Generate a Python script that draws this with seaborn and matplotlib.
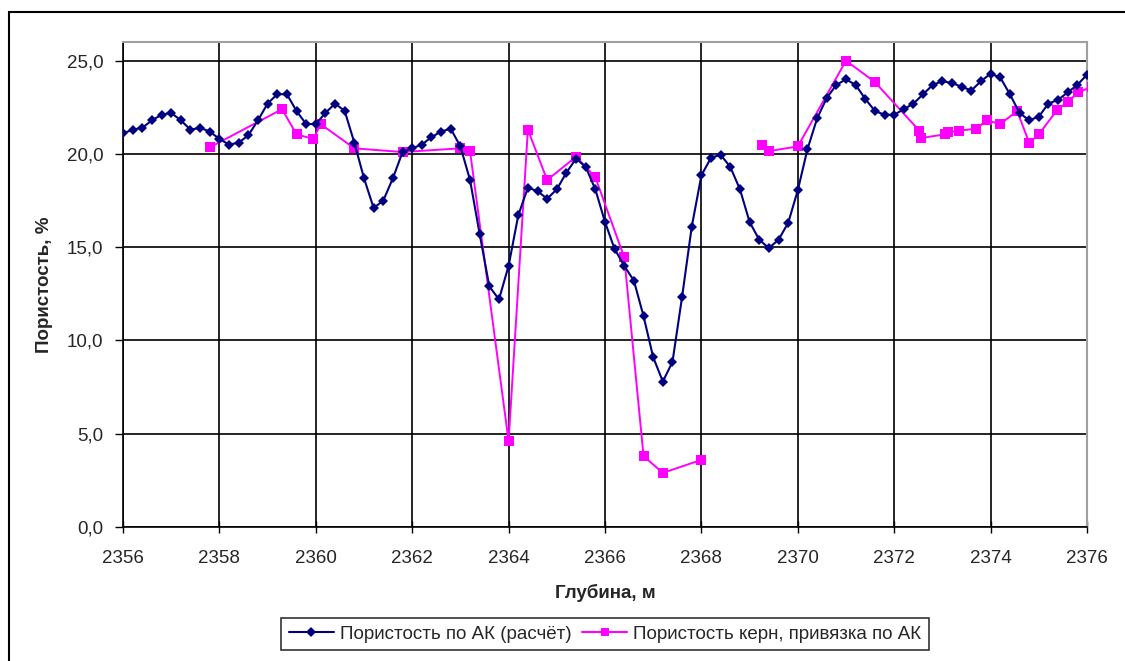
# Porosity vs depth: acoustic log calculation vs core samples tied to AK
import numpy as np
import pandas as pd
import matplotlib.pyplot as plt
import matplotlib.patches as mpatches
import matplotlib.ticker as mticker
import seaborn as sns

# Porosity from acoustic log (every 0.2 m)
ak_depth = np.round(np.arange(2356.0, 2376.01, 0.2), 1)
ak_poro = [21.1, 21.3, 21.4, 21.8, 22.1, 22.2, 21.8, 21.3, 21.4, 21.2,
           20.8, 20.5, 20.6, 21.0, 21.8, 22.7, 23.2, 23.2, 22.3, 21.6,
           21.6, 22.2, 22.7, 22.3, 20.6, 18.7, 17.1, 17.5, 18.7, 20.1,
           20.3, 20.5, 20.9, 21.2, 21.35, 20.4, 18.6, 15.7, 12.9, 12.2,
           14.0, 16.7, 18.2, 18.0, 17.6, 18.1, 19.0, 19.75, 19.3, 18.1,
           16.35, 14.9, 14.0, 13.2, 11.3, 9.1, 7.8, 8.85, 12.35, 16.1,
           18.85, 19.8, 19.95, 19.3, 18.1, 16.35, 15.4, 14.95, 15.4, 16.3,
           18.05, 20.25, 21.9, 23.0, 23.7, 24.0, 23.7, 22.95, 22.3, 22.1,
           22.1, 22.4, 22.7, 23.2, 23.7, 23.9, 23.8, 23.6, 23.4, 23.9,
           24.3, 24.1, 23.2, 22.2, 21.8, 22.0, 22.7, 22.9, 23.3, 23.7,
           24.25]

# Core porosity, two depth intervals
core1_depth = [2357.8, 2359.3, 2359.6, 2359.95, 2360.1, 2360.8, 2361.8, 2363.0,
               2363.2, 2364.0, 2364.4, 2364.8, 2365.4, 2365.8, 2366.4, 2366.8,
               2367.2, 2368.0]
core1_poro = [20.35, 22.4, 21.05, 20.8, 21.6, 20.3, 20.1, 20.3,
              20.15, 4.6, 21.3, 18.6, 19.85, 18.75, 14.45, 3.8,
              2.9, 3.6]
core2_depth = [2369.25, 2369.4, 2370.0, 2371.0, 2371.6, 2372.52, 2372.56, 2373.05,
               2373.12, 2373.35, 2373.7, 2373.92, 2374.2, 2374.55, 2374.8, 2375.0,
               2375.38, 2375.6, 2375.82, 2376.1]
core2_poro = [20.5, 20.15, 20.4, 25.0, 23.85, 21.25, 20.85, 21.05,
              21.15, 21.25, 21.35, 21.8, 21.6, 22.3, 20.6, 21.05,
              22.35, 22.8, 23.3, 23.6]

label_ak = 'Пористость по АК (расчёт)'
label_core = 'Пористость керн, привязка по АК'

sns.set_style('white')
plt.rcParams['font.family'] = ['Liberation Sans', 'DejaVu Sans']

fig = plt.figure(figsize=(11.25, 6.61), dpi=100)
ax = fig.add_axes([123 / 1125, 1 - 527 / 661, (1087 - 123) / 1125, (527 - 42) / 661])

# outer chart frame
fig.patches.append(mpatches.Rectangle((9 / 1125, -0.1), 1.2, 1.1 - 12 / 661,
                                      transform=fig.transFigure, fill=False,
                                      edgecolor='black', linewidth=1.5))

navy = '#000080'
pink = '#FF00FF'

sns.lineplot(x=ak_depth, y=ak_poro, ax=ax, color=navy, lw=1.5, marker='D',
             markersize=5, markeredgewidth=0, zorder=4)
sns.lineplot(x=core1_depth, y=core1_poro, ax=ax, color=pink, lw=1.4, marker='s',
             markersize=6.5, markeredgewidth=0, zorder=3)
sns.lineplot(x=core2_depth, y=core2_poro, ax=ax, color=pink, lw=1.4, marker='s',
             markersize=6.5, markeredgewidth=0, zorder=3)

ax.set_xlim(2356, 2376)
ax.set_ylim(0, 26)
ax.set_xticks(np.arange(2356, 2377, 2))
ax.set_yticks(np.arange(0, 26, 5))
ax.yaxis.set_major_formatter(mticker.FuncFormatter(lambda v, p: f'{v:.1f}'.replace('.', ',')))
ax.grid(True, color='black', lw=1.2)
ax.set_axisbelow(True)

for s in ['top', 'right']:
    ax.spines[s].set_color('#a0a0a0')
    ax.spines[s].set_linewidth(1.5)
for s in ['left', 'bottom']:
    ax.spines[s].set_color('black')
    ax.spines[s].set_linewidth(1.2)

ax.tick_params(axis='y', direction='out', length=6, width=1, color='black',
               labelsize=13.5, pad=8, left=True)
ax.tick_params(axis='x', direction='inout', length=9, width=1, color='black',
               labelsize=13.5, pad=12, bottom=True)

ax.set_xlabel('Глубина, м', fontsize=13.5, fontweight='bold')
ax.set_ylabel('Пористость, %', fontsize=13.5, fontweight='bold')
ax.xaxis.set_label_coords(0.5, (527 - 584) / 485)
ax.yaxis.set_label_coords((53 - 123) / 964, 0.5)

h1 = plt.Line2D([], [], color=navy, lw=1.5, marker='D', markersize=5, markeredgewidth=0)
h2 = plt.Line2D([], [], color=pink, lw=1.5, marker='s', markersize=5.5, markeredgewidth=0)
leg = fig.legend([h1, h2], [label_ak, label_core], loc='center',
                 bbox_to_anchor=(605 / 1125, 1 - 634 / 661), ncol=2, fontsize=13.5,
                 frameon=True, fancybox=False, edgecolor='black', handlelength=2.4,
                 handletextpad=0.3, columnspacing=0.6, borderpad=0.4)
leg.get_frame().set_linewidth(1.2)

fig.savefig('out.png', dpi=100)
